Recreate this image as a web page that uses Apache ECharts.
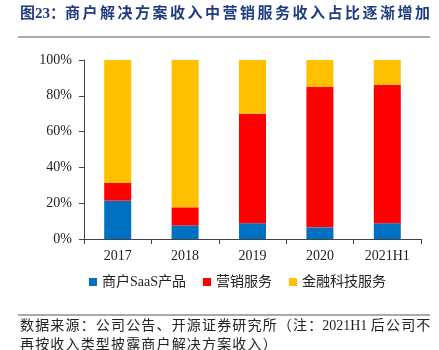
<!DOCTYPE html>
<html>
<head>
<meta charset="utf-8">
<script src="https://cdn.jsdelivr.net/npm/echarts@6/dist/echarts.min.js"></script>
<style>
html,body{margin:0;padding:0;background:#fff;}
#main{width:439px;height:350px;}
</style>
</head>
<body>
<div id="main"></div>
<script>
const categories = ['2017', '2018', '2019', '2020', '2021H1']
const saasData = [21.4, 7.6, 8.8, 6.5, 8.8]
const marketingData = [9.9, 10.1, 61.2, 78.4, 77.4]
const fintechData = [68.7, 82.3, 30.0, 15.1, 13.8]
const yTicks = ['0%', '20%', '40%', '60%', '80%', '100%']

let chart = echarts.init(document.getElementById('main'))
const serif = '"Liberation Serif", "Times New Roman", "Noto Sans CJK SC", serif'
const cjk = '"Liberation Serif", "Noto Sans CJK SC", serif'
// 字间距稍宽，用细空格撑开
const spaced = function (s, gap) {
    return s.split('').join(gap || '\u200a')
}

chart.setOption({
    animation: false,
    grid: {
        left: 84,
        right: 18,
        top: 60,
        bottom: 111,
        containLabel: false
    },
    graphic: [
        {
            type: 'text',
            left: 20,
            top: 7,
            style: {
                text: '图23：' + spaced('商户解决方案收入中营销服务收入占比逐渐增加', '\u200a\u200a'),
                fill: '#1f3b82',
                font: 'bold 15px ' + cjk
            }
        },
        {
            type: 'line',
            shape: {x1: 18, y1: 37, x2: 430, y2: 37},
            style: {stroke: '#555', lineWidth: 1}
        },
        {
            type: 'line',
            shape: {x1: 18, y1: 315, x2: 430, y2: 315},
            style: {stroke: '#555', lineWidth: 1}
        },
        {
            type: 'text',
            left: 20,
            top: 319,
            style: {
                text: spaced('数据来源：公司公告、开源证券研究所（注：') + '2021H1 ' + spaced('后公司不'),
                fill: '#222',
                font: '14px ' + cjk
            }
        },
        {
            type: 'text',
            left: 20,
            top: 338,
            style: {
                text: spaced('再按收入类型披露商户解决方案收入）'),
                fill: '#222',
                font: '14px ' + cjk
            }
        }
    ],
    legend: {
        bottom: 56,
        left: 84,
        itemWidth: 8,
        itemHeight: 8,
        itemGap: 17,
        icon: 'rect',
        textStyle: {
            fontFamily: cjk,
            fontSize: 14,
            color: '#222'
        },
        data: ['商户SaaS产品', '营销服务', '金融科技服务']
    },
    xAxis: {
        type: 'category',
        data: categories,
        axisLine: {lineStyle: {color: '#444'}},
        axisTick: {show: true, alignWithLabel: false, length: 5, lineStyle: {color: '#444'}},
        axisLabel: {
            color: '#222',
            fontFamily: serif,
            fontSize: 14,
            margin: 10
        }
    },
    yAxis: {
        type: 'value',
        min: 0,
        max: 100,
        interval: 20,
        axisLine: {show: true, lineStyle: {color: '#444'}},
        axisTick: {show: true, inside: false, length: 5, lineStyle: {color: '#444'}},
        splitLine: {show: false},
        axisLabel: {
            color: '#222',
            fontFamily: serif,
            fontSize: 14,
            margin: 12,
            formatter: function (v) {
                return yTicks[v / 20]
            }
        }
    },
    series: [
        {
            name: '商户SaaS产品',
            type: 'bar',
            stack: 'total',
            barWidth: 27,
            itemStyle: {color: '#0070c0'},
            data: saasData
        },
        {
            name: '营销服务',
            type: 'bar',
            stack: 'total',
            barWidth: 27,
            itemStyle: {color: '#ff0000'},
            data: marketingData
        },
        {
            name: '金融科技服务',
            type: 'bar',
            stack: 'total',
            barWidth: 27,
            itemStyle: {color: '#ffc000'},
            data: fintechData
        }
    ]
})
</script>
</body>
</html>
